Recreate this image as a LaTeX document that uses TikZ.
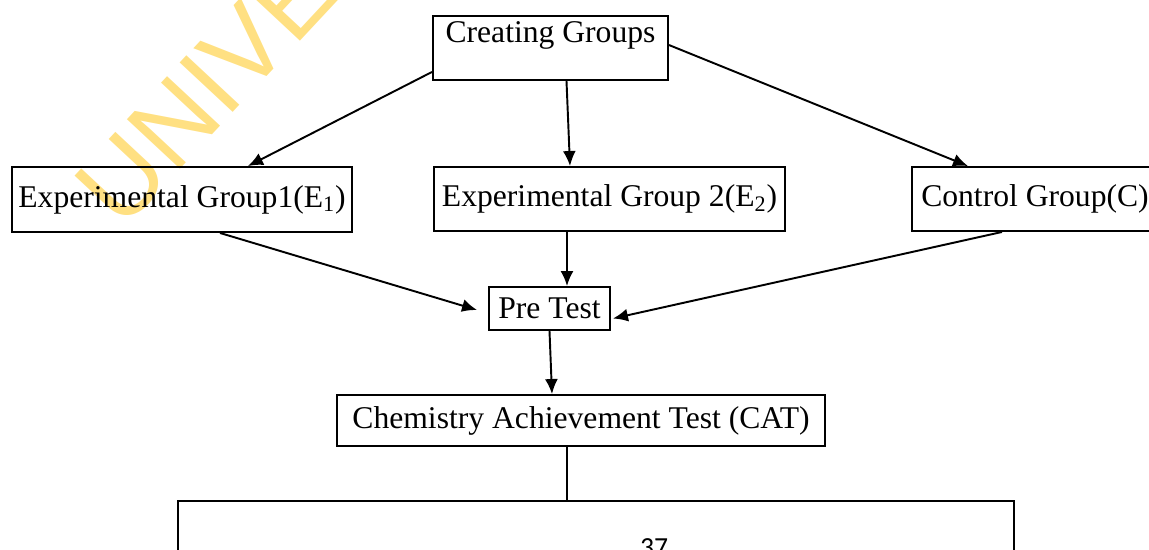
\documentclass[tikz,border=0pt]{standalone}
\usepackage{fontspec}
\setmainfont{Liberation Serif}
\newfontfamily\wmfont{Liberation Sans}
\newfontfamily\pagefont{Carlito}
\usepackage{tikz}
\usetikzlibrary{calc,arrows.meta}
\definecolor{wmark}{RGB}{255,224,130}

\begin{document}
\begin{tikzpicture}[x=0.02cm, y=-0.02cm, line width=1.1pt, >={Latex[length=0.3cm,width=0.26cm]}]
\tikzstyle{block} = [draw, rectangle, inner sep=0pt, font=\fontsize{18}{22}\selectfont]
\tikzstyle{watermark} = [text=wmark, inner sep=0pt, font=\wmfont\fontsize{60}{64}\selectfont]

\useasboundingbox (0,0) rectangle (1149,549);
\clip (0,0) rectangle (1149,549);

    \node [watermark, rotate=47, anchor=base west] (wm) at (122,232) {UNIVE};

    % We start by placing the blocks
    \node [block, anchor=north, minimum width=4.7cm, text height=0.54cm, text depth=0.74cm] (groups) at (550.5,15) {Creating Groups};
    \node [block, minimum width=6.8cm, minimum height=1.3cm] (e1) at (182,199.5) {Experimental Group1(E\textsubscript{1})};
    \node [block, minimum width=7.02cm, minimum height=1.28cm] (e2) at (609.5,199) {Experimental Group 2(E\textsubscript{2})};
    \node [block, minimum width=4.92cm, minimum height=1.28cm] (ctrl) at (1035,199) {Control Group(C)};
    \node [block, minimum width=2.42cm, minimum height=0.86cm] (pretest) at (549.5,308.5) {Pre Test};
    \node [block, minimum width=9.76cm, minimum height=1.02cm] (cat) at (581,420.5) {Chemistry Achievement Test (CAT)};
    \node [block, minimum width=16.72cm, minimum height=2.4cm] (result) at (596,561) {};
    \node [anchor=base, font=\pagefont\fontsize{15.7}{18}\selectfont] (page) at (654,556) {37};

    % Once the nodes are placed, connect them
    \draw [->] ($(groups.south west)+(0,-9)$) -- ($(e1.north)+(66,0)$);
    \draw [->] ($(groups.south)+(16,0)$) -- ($(e2.north)+(-39.5,0)$);
    \draw [->] ($(groups.north east)+(0,30)$) -- ($(ctrl.north)+(-67,0)$);
    \draw [->] ($(e1.south)+(38,0)$) -- ($(pretest.west)+(-11,1.5)$);
    \draw [->] ($(e2.south)+(-42.5,0)$) -- ($(pretest.north)+(17.5,0)$);
    \draw [->] ($(ctrl.south)+(-33,0)$) -- ($(pretest.east)+(2,10)$);
    \draw [->] (pretest.south) -- ($(cat.north)+(-29,0)$);
    \draw [-] ($(cat.south)+(-14,0)$) coordinate (tap) -- (tap |- result.north);

\end{tikzpicture}
\end{document}
